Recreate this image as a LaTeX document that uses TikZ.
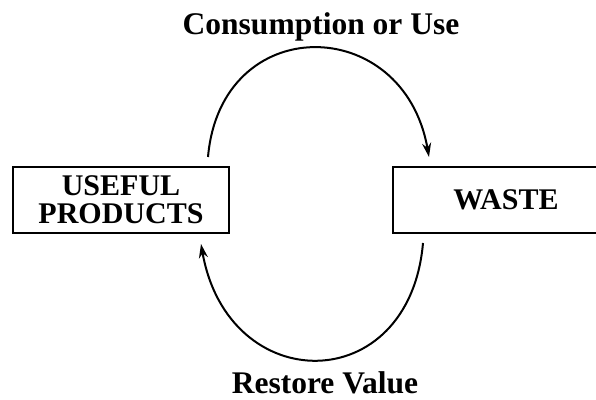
\documentclass[tikz,border=0pt]{standalone}
\usepackage{fontspec}
\setmainfont{Liberation Serif}
\usetikzlibrary{arrows.meta}
\tikzset{
	box/.style={draw,line width=2pt,inner sep=0pt,align=center,font=\bfseries\fontsize{30}{28}\selectfont},
	lbl/.style={anchor=base,font=\bfseries\fontsize{31.5}{31.5}\selectfont},
	flow/.style={line width=2pt,-{Stealth[length=14pt,width=9pt]}}
}
\begin{document}
\begin{tikzpicture}[x=1pt,y=1pt]
		\useasboundingbox (0,0) rectangle (596,399);
		\clip (0,0) rectangle (596,399);
		\node[box,minimum width=216pt,minimum height=66pt] (useful) at (121,199) {USEFUL\\PRODUCTS};
		\node[box,minimum width=226pt,minimum height=66pt] (waste) at (506,199) {WASTE};
		\node[lbl] (use) at (321,364) {Consumption or Use};
		\node[lbl] (restore) at (325,6) {Restore Value};
		\draw[flow] ([xshift=-22pt,yshift=9pt]useful.north east) to[out=85,in=100,looseness=1.7] ([xshift=37pt,yshift=9pt]waste.north west);
		\draw[flow] ([xshift=31pt,yshift=-9pt]waste.south west) to[out=-95,in=-80,looseness=1.8] ([xshift=-29pt,yshift=-10pt]useful.south east);
	\end{tikzpicture}
\end{document}
